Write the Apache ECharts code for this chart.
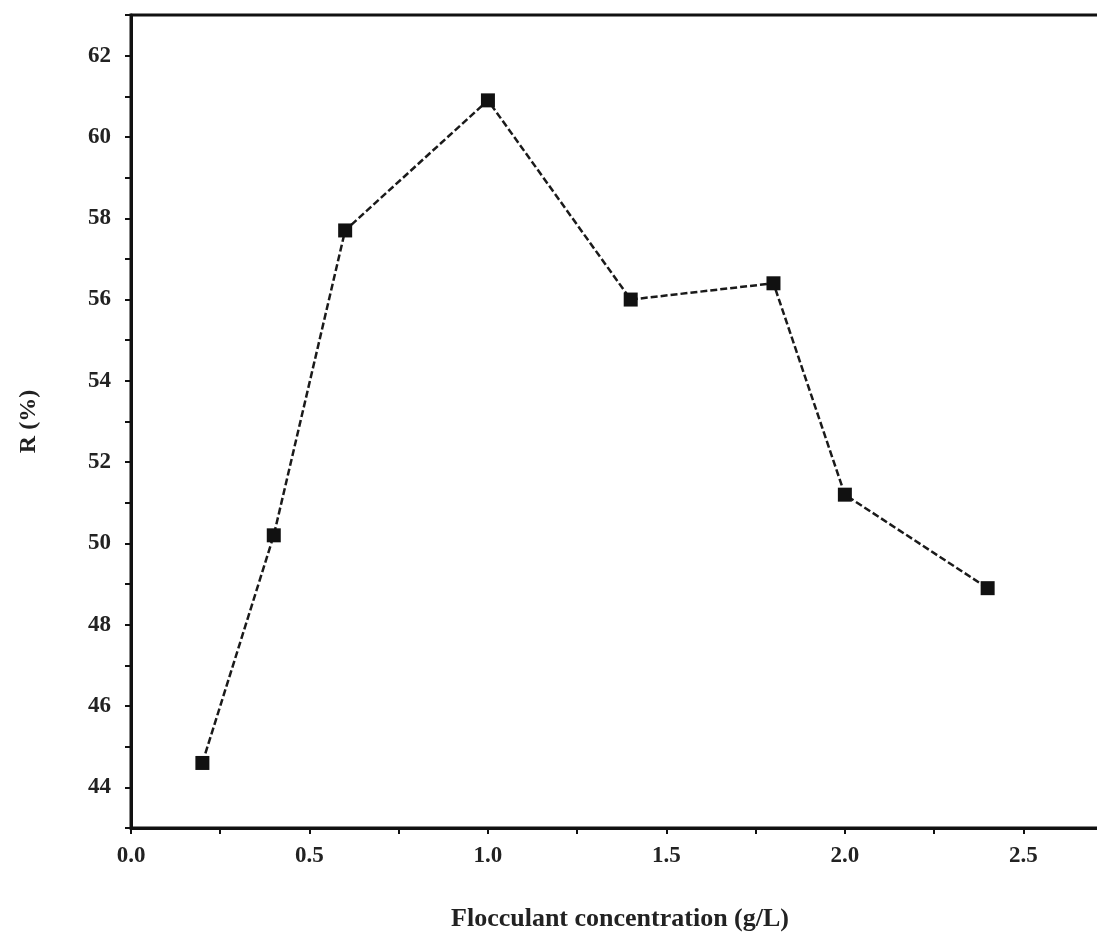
<!DOCTYPE html>
<html>
<head>
<meta charset="utf-8">
<script src="https://cdn.jsdelivr.net/npm/echarts@6/dist/echarts.min.js"></script>
<style>html,body{margin:0;padding:0;background:#fff;}#c{width:1097px;height:949px;}</style>
</head>
<body>
<div id="c"></div>
<script>
const xValues = [0.2, 0.4, 0.6, 1.0, 1.4, 1.8, 2.0, 2.4];
const rValues = [44.6, 50.2, 57.7, 60.9, 56.0, 56.4, 51.2, 48.9];
const xTickLabels = ['0.0', '0.5', '1.0', '1.5', '2.0', '2.5'];
const xTitle = 'Flocculant concentration (g/L)';
const yTitle = 'R (%)';

const chart = echarts.init(document.getElementById('c'));
const font = 'Liberation Serif';
chart.setOption({
  animation: false,
  backgroundColor: '#fff',
  grid: { left: 131, right: -12, top: 15, bottom: 121, show: true, borderColor: '#111', borderWidth: 3, outerBoundsMode: 'none', containLabel: false },
  xAxis: {
    type: 'value', min: 0, max: 2.74, interval: 0.25,
    name: xTitle, nameLocation: 'middle', nameGap: 78,
    nameTextStyle: { fontFamily: font, fontSize: 26, fontWeight: 'bold', color: '#222' },
    axisLine: { show: true, lineStyle: { color: '#111', width: 3 } },
    axisTick: { show: true, length: 6, lineStyle: { color: '#111', width: 2 } },
    splitLine: { show: false },
    axisLabel: {
      fontFamily: font, fontSize: 23, fontWeight: 'bold', color: '#222', margin: 17,
      showMaxLabel: false,
      formatter: function (v) {
        const k = Math.round(v * 2);
        return Math.abs(v * 2 - k) < 1e-6 ? (xTickLabels[k] || '') : '';
      }
    }
  },
  yAxis: {
    type: 'value', min: 43, max: 63, interval: 1,
    name: yTitle, nameLocation: 'middle', nameGap: 90, nameRotate: 90,
    nameTextStyle: { fontFamily: font, fontSize: 24, fontWeight: 'bold', color: '#222' },
    axisLine: { show: true, lineStyle: { color: '#111', width: 3 } },
    axisTick: { show: true, length: 6, lineStyle: { color: '#111', width: 2 } },
    splitLine: { show: false },
    axisLabel: {
      fontFamily: font, fontSize: 23, fontWeight: 'bold', color: '#222', margin: 20,
      formatter: function (v) { return (v % 2 === 0 && v >= 44 && v <= 62) ? String(v) : ''; }
    }
  },
  series: [{
    type: 'line',
    data: xValues.map((x, i) => [x, rValues[i]]),
    symbol: 'rect', symbolSize: 14,
    itemStyle: { color: '#111' },
    lineStyle: { color: '#1a1a1a', width: 2.5, type: [7, 3] }
  }]
});
</script>
</body>
</html>
